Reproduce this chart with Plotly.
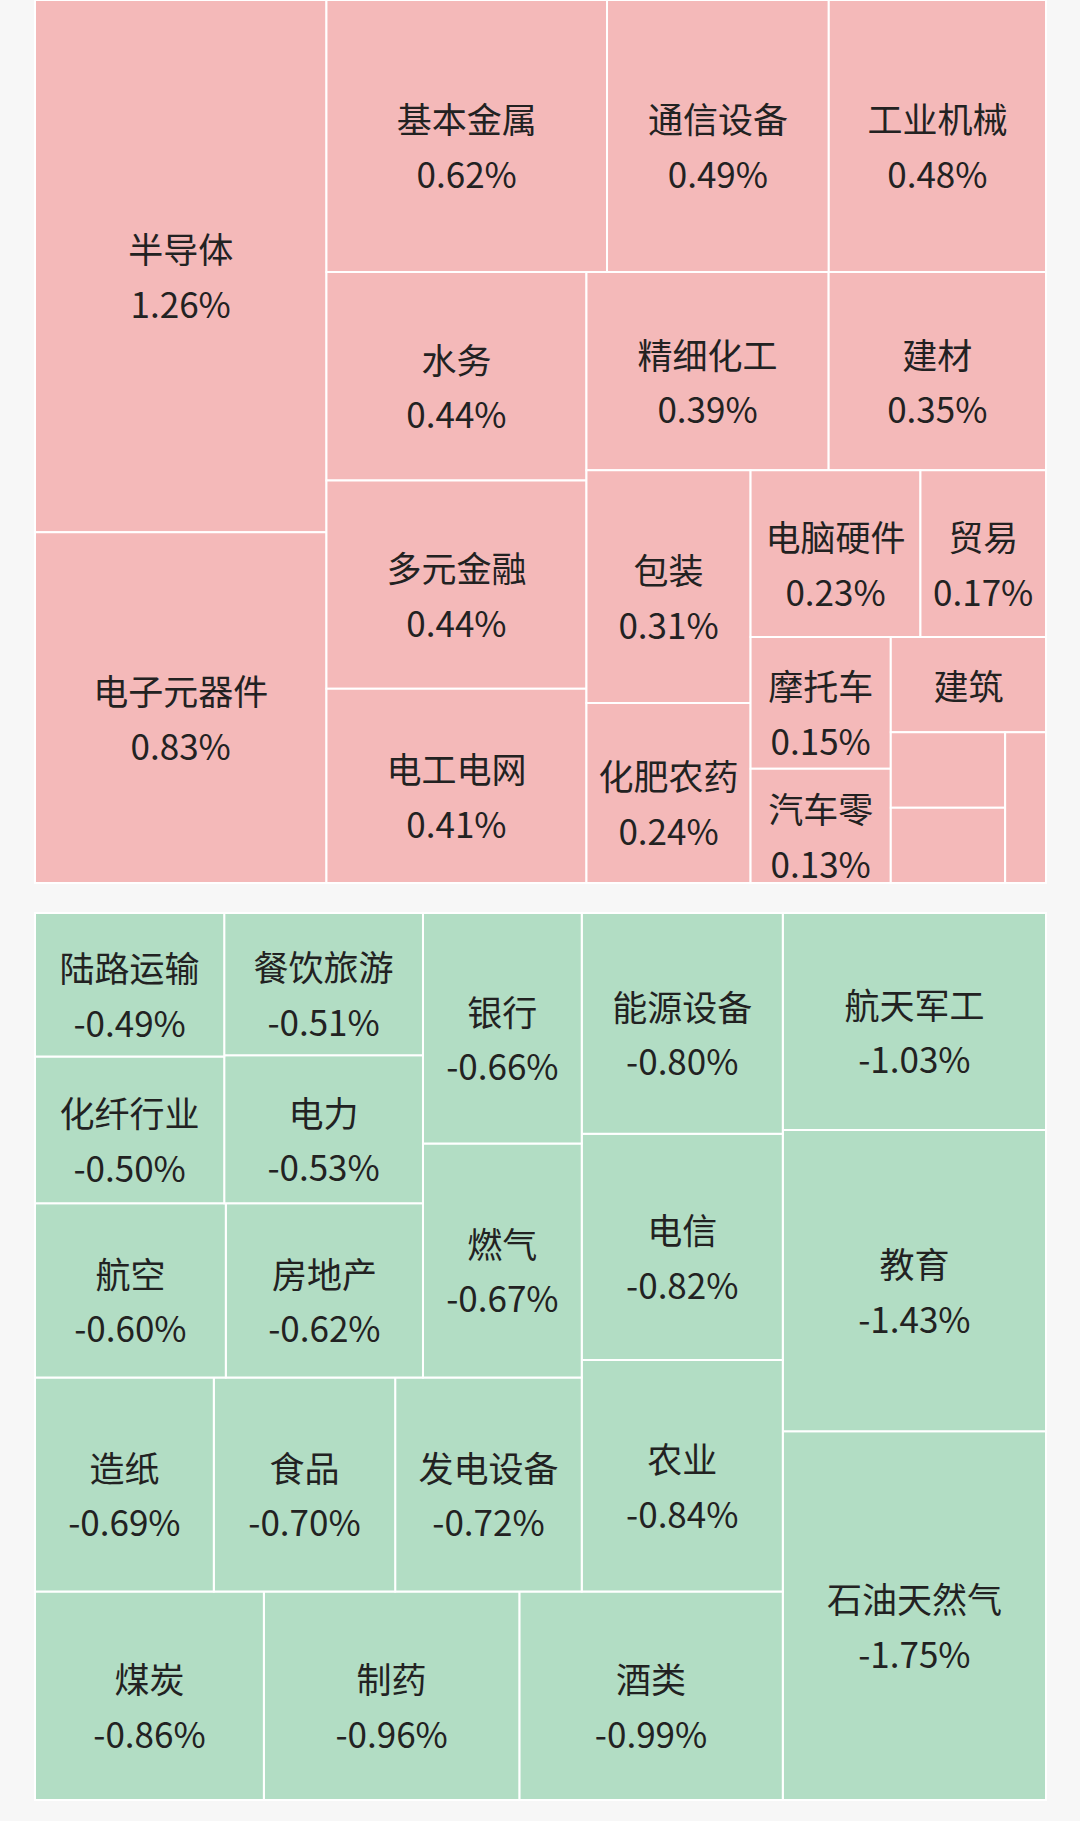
import plotly.graph_objects as go

# ---- data ----
up_names = ["半导体", "电子元器件", "基本金属", "通信设备", "工业机械", "水务", "多元金融",
            "电工电网", "精细化工", "建材", "包装", "化肥农药", "电脑硬件", "贸易", "摩托车",
            "汽车零", "建筑", "其他A", "其他B", "其他C"]
up_values = [1.26, 0.83, 0.62, 0.49, 0.48, 0.44, 0.44, 0.41, 0.39, 0.35, 0.31, 0.24, 0.23,
             0.17, 0.15, 0.13, 0.12, 0.07, 0.07, 0.05]

down_names = ["石油天然气", "教育", "航天军工", "酒类", "制药", "煤炭", "农业", "电信", "能源设备",
              "发电设备", "食品", "造纸", "燃气", "银行", "房地产", "航空", "电力", "餐饮旅游",
              "化纤行业", "陆路运输"]
down_values = [-1.75, -1.43, -1.03, -0.99, -0.96, -0.86, -0.84, -0.82, -0.80, -0.72, -0.70,
               -0.69, -0.67, -0.66, -0.62, -0.60, -0.53, -0.51, -0.50, -0.49]

label_only = {"建筑"}
no_label = {"其他A", "其他B", "其他C"}

PINK = "#F4B9B9"
GREEN = "#B2DDC4"
BG = "#F7F7F7"
BIG = 35
BASE = 14


def templates(names):
    out = []
    lead = f"<span style='font-size:{BIG}px'>&#160;</span><br>"
    for n in names:
        if n in no_label:
            out.append("")
        elif n in label_only:
            out.append(f"<span style='font-size:{BIG}px'>%{{label}}</span>")
        else:
            out.append(lead + f"<span style='font-size:{BIG}px'>%{{label}}</span><br><br><br>"
                       f"<span style='font-size:{BIG}px'>%{{customdata}}</span>")
    return out


def make_trace(names, values, color, domain_y, flip):
    return go.Treemap(
        labels=names,
        parents=[""] * len(names),
        values=[abs(v) for v in values],
        customdata=[f"{v:.2f}%" for v in values],
        texttemplate=templates(names),
        textposition="middle center",
        textfont=dict(family="Noto Sans CJK SC", size=BASE, color="#222222"),
        marker=dict(colors=[color] * len(names), line=dict(width=2, color="white"),
                    pad=dict(t=0, l=0, r=0, b=0)),
        tiling=dict(packing="squarify", pad=0, flip=flip),
        pathbar=dict(visible=False),
        root=dict(color="white"),
        sort=True,
        hoverinfo="skip",
        domain=dict(x=[0, 1], y=domain_y),
    )


fig = go.Figure()
fig.add_trace(make_trace(up_names, up_values, PINK, [1 - 883 / 1800, 1], None))
fig.add_trace(make_trace(down_names, down_values, GREEN, [0, 1 - 913 / 1800], "x+y"))

fig.update_layout(
    width=1080, height=1821,
    margin=dict(l=35, r=34, t=0, b=21),
    paper_bgcolor=BG,
    uniformtext=dict(minsize=BASE, mode="show"),
    font=dict(family="Noto Sans CJK SC"),
)

fig.write_html("out.html")
